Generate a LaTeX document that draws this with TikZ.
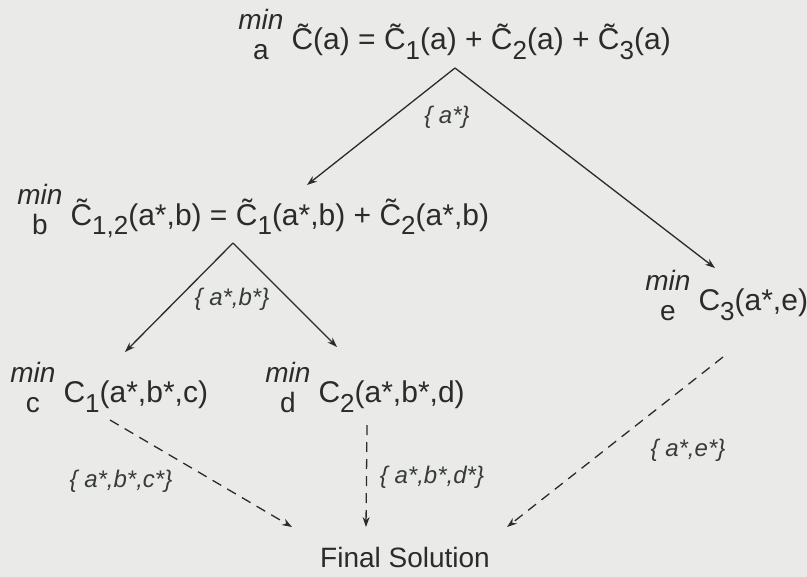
\documentclass[tikz,border=0pt]{standalone}
\usepackage{fontspec}
\setmainfont{Liberation Sans}
\usepackage{tikz}
\usepackage{xcolor}
\usetikzlibrary{arrows.meta,positioning}
\definecolor{paper}{HTML}{EAEAE8}
\definecolor{ink}{HTML}{2B2B2B}
\definecolor{note}{HTML}{363C38}
\newcommand\tC{\~{C}}
\newcommand\lowsub[1]{\raisebox{-5pt}{\fontsize{13}{15}\selectfont #1}}
\newcommand\minover[1]{\raisebox{-5pt}{\fontsize{14}{15}\selectfont
  \begin{tabular}[b]{@{}c@{}}\textit{min}\\#1\end{tabular}}\hspace{4pt}}
\tikzset{
  expr/.style={anchor=base west, inner sep=0pt, text=ink,
               font=\fontsize{15}{18}\selectfont},
  setlabel/.style={inner sep=0pt, text=note, font=\fontsize{12}{14}\selectfont\itshape},
  arrow/.style={-{Stealth[length=5pt,width=3.5pt]}, line width=0.65pt, draw=ink},
  passon/.style={arrow, dash pattern=on 5pt off 3.5pt}
}

\begin{document}
\begin{tikzpicture}[x=0.5pt,y=-0.5pt]
    \fill[paper] (0,0) rectangle (807,577);
    \useasboundingbox (0,0) rectangle (807,577);

    % Level 1: minimise over a
    \node[expr] (top) at (238,50)
      {\minover{a}\tC(a) = \tC\lowsub{1}(a) + \tC\lowsub{2}(a) + \tC\lowsub{3}(a)};
    \coordinate (split1) at (455,68);

    % Level 2: minimise over b, and the lone C3 branch
    \node[expr] (pair) at (17,225)
      {\minover{b}\tC\lowsub{1,2}(a*,b) = \tC\lowsub{1}(a*,b) + \tC\lowsub{2}(a*,b)};
    \node[expr] (coste) at (645,310) {\minover{e}C\lowsub{3}(a*,e)};
    \coordinate (pairin) at (307,185);
    \coordinate (ein) at (715,268);
    \draw[arrow] (split1) -- (pairin);
    \draw[arrow] (split1) -- (ein);
    \node[setlabel] (la) at (447,117) {\{ a*\}};

    % Level 3: minimise over c and d
    \node[expr] (costc) at (10,402) {\minover{c}C\lowsub{1}(a*,b*,c)};
    \node[expr] (costd) at (265,402) {\minover{d}C\lowsub{2}(a*,b*,d)};
    \coordinate (split2) at (233,243);
    \coordinate (cin) at (125,352);
    \coordinate (din) at (337,347);
    \draw[arrow] (split2) -- (cin);
    \draw[arrow] (split2) -- (din);
    \node[setlabel] (lab) at (232,299) {\{ a*,b*\}};

    % Results passed on to the final solution
    \node[expr, anchor=base, font=\fontsize{14}{17}\selectfont] (final) at (405,567) {Final Solution};
    \coordinate (cout) at (110,420);
    \coordinate (dout) at (367,425);
    \coordinate (eout) at (723,357);
    \coordinate (finc) at (292,527);
    \coordinate (find) at (366,527);
    \coordinate (fine) at (507,527);
    \draw[passon] (cout) -- (finc);
    \draw[passon] (dout) -- (find);
    \draw[passon] (eout) -- (fine);
    \node[setlabel] (labc) at (121,481) {\{ a*,b*,c*\}};
    \node[setlabel] (labd) at (432,477) {\{ a*,b*,d*\}};
    \node[setlabel] (lae) at (688,450) {\{ a*,e*\}};
\end{tikzpicture}
\end{document}
